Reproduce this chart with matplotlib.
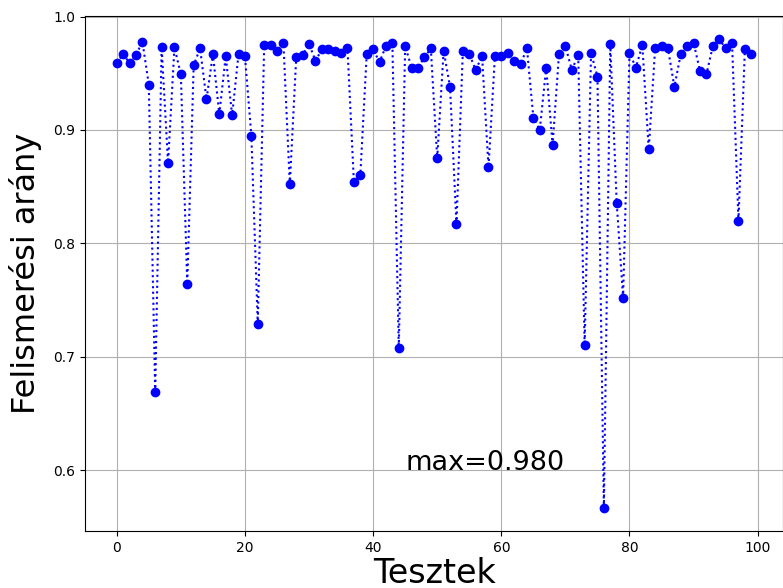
import numpy as np
import matplotlib
matplotlib.use("Agg")
import matplotlib.pyplot as plt

# felismeresi arany tesztenkent
ratios = [
    0.959, 0.967, 0.959, 0.966, 0.978, 0.940, 0.669, 0.973, 0.871, 0.973,
    0.949, 0.764, 0.957, 0.972, 0.927, 0.967, 0.914, 0.965, 0.913, 0.967,
    0.965, 0.895, 0.729, 0.975, 0.975, 0.970, 0.977, 0.852, 0.964, 0.966,
    0.976, 0.961, 0.971, 0.971, 0.970, 0.968, 0.972, 0.854, 0.860, 0.967,
    0.971, 0.960, 0.974, 0.977, 0.708, 0.974, 0.955, 0.955, 0.964, 0.972,
    0.875, 0.970, 0.938, 0.817, 0.970, 0.967, 0.953, 0.965, 0.867, 0.965,
    0.965, 0.968, 0.961, 0.958, 0.972, 0.911, 0.900, 0.955, 0.887, 0.967,
    0.974, 0.953, 0.966, 0.710, 0.968, 0.947, 0.567, 0.976, 0.836, 0.752,
    0.968, 0.955, 0.975, 0.883, 0.972, 0.974, 0.972, 0.938, 0.967, 0.974,
    0.977, 0.952, 0.949, 0.974, 0.980, 0.972, 0.977, 0.820, 0.971, 0.967,
]
tests = np.arange(len(ratios))
max_label = "max=0.980"

fig = plt.figure(figsize=(7.83, 5.88), dpi=100)
ax = fig.add_axes([0.1086, 0.097, 0.8914, 0.876])
ax.plot(tests, ratios, "bo:")
ax.grid(True)
ax.set_xlabel("Tesztek", fontsize=24, labelpad=2)
ax.set_ylabel("Felismerési arány", fontsize=23, labelpad=8)
ax.text(45, 0.6, max_label, fontsize=19.5)
ax.set_yticks([0.6, 0.7, 0.8, 0.9, 1.0])

fig.savefig("out.png", dpi=100)
